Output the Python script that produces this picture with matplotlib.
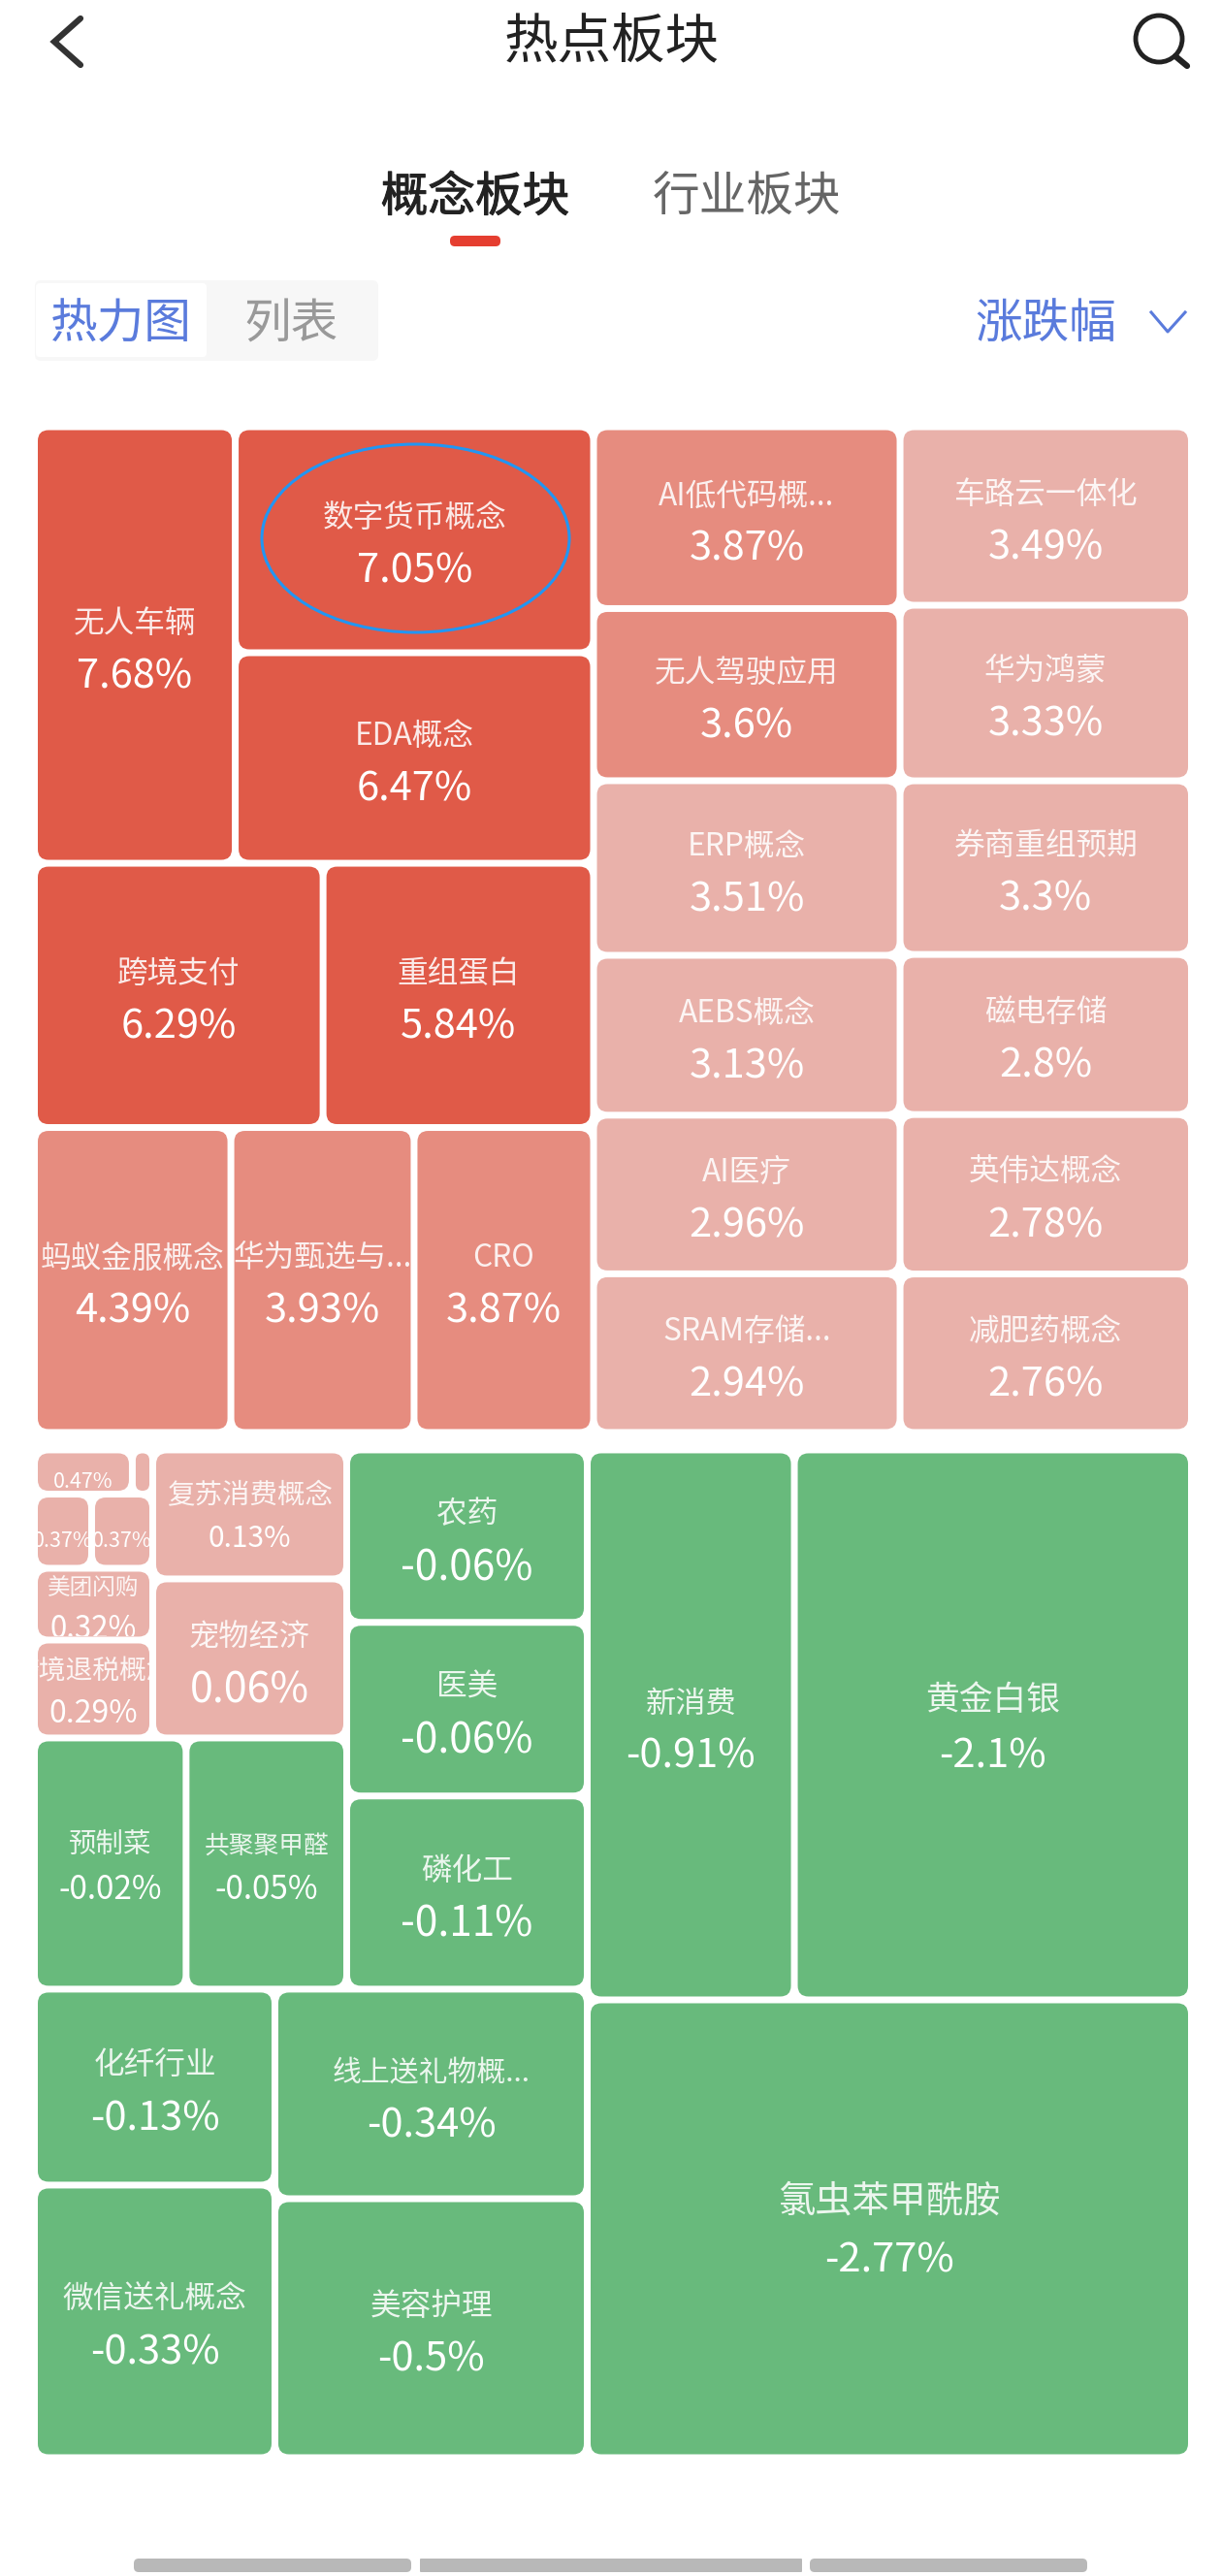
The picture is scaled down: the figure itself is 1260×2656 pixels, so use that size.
import matplotlib
matplotlib.use("Agg")
import matplotlib.pyplot as plt
import matplotlib.patheffects as pe
from matplotlib.patches import FancyBboxPatch, Ellipse, Circle
from matplotlib.transforms import Bbox, TransformedBbox

plt.rcParams["font.family"] = ["Noto Sans CJK SC", "DejaVu Sans"]

names = ["无人车辆", "数字货币概念", "EDA概念", "跨境支付", "重组蛋白", "蚂蚁金服概念", "华为甄选与...", "CRO",
         "AI低代码概...", "无人驾驶应用", "ERP概念", "AEBS概念", "AI医疗", "SRAM存储...",
         "车路云一体化", "华为鸿蒙", "券商重组预期", "磁电存储", "英伟达概念", "减肥药概念",
         "", "", "", "", "美团闪购", "跨境退税概念", "复苏消费概念", "宠物经济", "预制菜", "共聚聚甲醛",
         "农药", "医美", "磷化工", "化纤行业", "微信送礼概念", "线上送礼物概...", "美容护理",
         "新消费", "黄金白银", "氯虫苯甲酰胺"]
values = [7.68, 7.05, 6.47, 6.29, 5.84, 4.39, 3.93, 3.87,
          3.87, 3.6, 3.51, 3.13, 2.96, 2.94,
          3.49, 3.33, 3.3, 2.8, 2.78, 2.76,
          0.47, 0.4, 0.37, 0.37, 0.32, 0.29, 0.13, 0.06, -0.02, -0.05,
          -0.06, -0.06, -0.11, -0.13, -0.33, -0.34, -0.5,
          -0.91, -2.1, -2.77]
# tile areas
sizes = [932, 861, 802, 811, 760, 637, 594, 582,
         592.5, 561, 569, 521, 517, 517,
         553, 544, 538, 496, 494, 491,
         46.0, 9.6, 45.1, 48.2, 90.3, 123.2, 266, 328, 405, 429,
         441, 444, 494, 501, 697, 696, 860,
         1211, 2322, 2941]
name_pt = [22.8] * 20 + [0, 0, 0, 0, 17, 20, 20.5, 22.5, 20.5, 18.5, 22.8, 22.8, 22.8, 22.8, 22.8, 21.5, 22.8, 22.5, 25, 27.5]
value_pt = [30] * 20 + [15.5, 0, 15.5, 15.5, 22.5, 23, 21.5, 31, 24, 24, 30.5, 30.5, 30.5, 30, 30, 30, 30, 30, 30, 30]

# how the tiles nest: "h" splits left to right, "v" top to bottom
top_part = ("h", [
    ("v", [("h", [0, ("v", [1, 2])]), ("h", [3, 4]), ("h", [5, 6, 7])]),
    ("h", [("v", [8, 9, 10, 11, 12, 13]), ("v", [14, 15, 16, 17, 18, 19])]),
])
small_part = ("h", [
    ("v", [("h", [20, 21]), ("h", [22, 23]), 24, 25]),
    ("v", [26, 27]),
])
left_part = ("v", [
    ("h", [("v", [small_part, ("h", [28, 29])]), ("v", [30, 31, 32])]),
    ("h", [("v", [33, 34]), ("v", [35, 36])]),
])
bottom_part = ("h", [left_part, ("v", [("h", [37, 38]), 39])])
groups_gap = 18


def total(node):
    if isinstance(node, int):
        return sizes[node]
    return sum(total(c) for c in node[1])


def layout(node, x, y, w, h, boxes):
    if isinstance(node, int):
        boxes[node] = (x, y, w, h)
        return
    whole = total(node)
    for child in node[1]:
        part = total(child) / whole
        if node[0] == "h":
            layout(child, x, y, w * part, h, boxes)
            x += w * part
        else:
            layout(child, x, y, w, h * part, boxes)
            y += h * part


def tile_color(v):
    if v < 0:
        return "#68ba7c"
    if v >= 5:
        return "#e05a48"
    if v >= 3.55:
        return "#e68c7f"
    return "#e9b1aa"


def clip_to(t, clip_box):
    t.set_clip_path(None)
    t.set_clip_box(clip_box)
    t.set_clip_on(True)


fig = plt.figure(figsize=(12.6, 26.56), dpi=100)
ax = fig.add_axes([0, 0, 1, 1])
ax.set_xlim(0, 1260)
ax.set_ylim(2656, 0)
ax.axis("off")

# treemap
left, right = 35.5, 1228.5
top_y, bottom_y = 440, 2534
width = right - left
height = bottom_y - top_y - groups_gap
top_h = height * total(top_part) / (total(top_part) + total(bottom_part))
boxes = {}
layout(top_part, left, top_y, width, top_h, boxes)
layout(bottom_part, left, top_y + top_h + groups_gap, width, height - top_h, boxes)

gap = 7
text_shift = 4
for i in range(len(names)):
    x, y, w, h = boxes[i]
    x, y, w, h = x + gap / 2, y + gap / 2, w - gap, h - gap
    round_size = min(11, w / 2, h / 2)
    tile = FancyBboxPatch((x, y), w, h, boxstyle=f"round,pad=0,rounding_size={round_size}",
                          fc=tile_color(values[i]), ec="none")
    ax.add_patch(tile)
    clip_box = TransformedBbox(Bbox([[x, y], [x + w, y + h]]), ax.transData)
    cx, cy = x + w / 2, y + h / 2 + text_shift
    name_px = name_pt[i] / 0.72
    value_px = value_pt[i] / 0.72
    if names[i]:
        t = ax.text(cx, cy - 0.83 * name_px, names[i], color="white", alpha=0.88, fontsize=name_pt[i],
                    ha="center", va="center")
        clip_to(t, clip_box)
        value_dy = 0.69 * value_px
    else:
        value_dy = 0.3 * value_px
    if value_pt[i] > 0:
        t = ax.text(cx, cy + value_dy, f"{values[i]:g}%", color="white", fontsize=value_pt[i],
                    ha="center", va="center")
        clip_to(t, clip_box)

# blue ring drawn over the 数字货币概念 tile
ax.add_patch(Ellipse((428.5, 555), 317, 194, fc="none", ec="#2196f3", lw=2.2))

# header
ax.text(631, 44, "热点板块", color="#222222", fontsize=40, ha="center", va="center")
ax.plot([83, 56, 83], [19, 43, 67], color="#333333", lw=4.5, solid_capstyle="round", solid_joinstyle="miter")
ax.add_patch(Circle((1195, 40), 24, fc="none", ec="#222222", lw=3.5))
ax.plot([1212, 1224], [58, 68], color="#222222", lw=4.5, solid_capstyle="round")

# tabs
tab = ax.text(490, 204, "概念板块", color="#222222", fontsize=35, ha="center", va="center")
tab.set_path_effects([pe.withStroke(linewidth=0.8, foreground="#222222")])
ax.text(770, 204, "行业板块", color="#666666", fontsize=35, ha="center", va="center")
ax.add_patch(FancyBboxPatch((464, 243), 52, 11, boxstyle="round,pad=0,rounding_size=5", fc="#e53e30", ec="none"))

# toggle and sort control
ax.add_patch(FancyBboxPatch((36, 289), 354, 83, boxstyle="round,pad=0,rounding_size=6", fc="#f7f7f7", ec="none"))
ax.add_patch(FancyBboxPatch((37, 292), 176, 76, boxstyle="round,pad=0,rounding_size=4", fc="white", ec="none"))
ax.text(125, 335, "热力图", color="#5a7bdc", fontsize=35, ha="center", va="center")
ax.text(300, 335, "列表", color="#999999", fontsize=35, ha="center", va="center")
ax.text(1078, 335, "涨跌幅", color="#5a7bdc", fontsize=35, ha="center", va="center")
ax.plot([1187, 1204, 1222], [322, 342, 322], color="#5a7bdc", lw=2.2)

# bottom scroll bar
ax.add_patch(FancyBboxPatch((138, 2638), 286, 14, boxstyle="round,pad=0,rounding_size=5", fc="#b8b8b8", ec="none"))
ax.add_patch(FancyBboxPatch((433, 2638), 394, 14, boxstyle="round,pad=0,rounding_size=1", fc="#b8b8b8", ec="none"))
ax.add_patch(FancyBboxPatch((835, 2638), 286, 14, boxstyle="round,pad=0,rounding_size=5", fc="#b8b8b8", ec="none"))

fig.savefig("out.png", dpi=100)
